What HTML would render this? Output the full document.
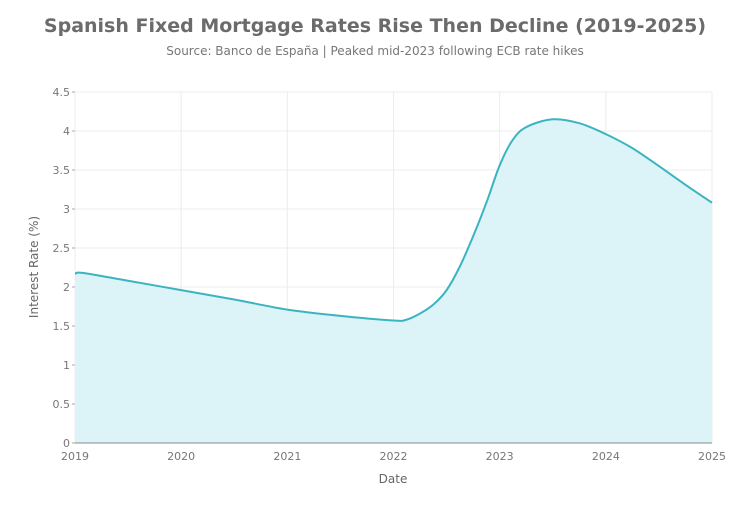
<!DOCTYPE html>
<html><head><meta charset="utf-8"><style>
body{margin:0;background:#fff;}
svg text{font-family:"DejaVu Sans","Liberation Sans",sans-serif;}
</style></head><body>
<svg id="s" width="750" height="500" xmlns="http://www.w3.org/2000/svg">
<text x="375" y="32" text-anchor="middle" font-size="19" font-weight="bold" fill="#6b6b6b">Spanish Fixed Mortgage Rates Rise Then Decline (2019-2025)</text>
<text x="375" y="55" text-anchor="middle" font-size="12" fill="#777">Source: Banco de España | Peaked mid-2023 following ECB rate hikes</text>
<g id="grid" stroke="#ececec" stroke-width="1"></g>
<path id="area" fill="#dcf3f7" stroke="none"/>
<path id="line" fill="none" stroke="#3bb4c1" stroke-width="2"/>
<line x1="75" y1="443" x2="712" y2="443" stroke="#888" stroke-width="1"/>
<g id="lbl" font-size="11" fill="#777"></g>
<text x="393" y="483" text-anchor="middle" font-size="12" fill="#666">Date</text>
<text transform="translate(38,267) rotate(-90)" text-anchor="middle" font-size="12" fill="#666">Interest Rate (%)</text>
</svg>
<script>
var X=function(t){return 75+(t-2019)*106.17},Y=function(v){return 443-v*78};
var g=document.getElementById('grid'),l=document.getElementById('lbl'),ns='http://www.w3.org/2000/svg';
function el(p,n,a,t){var e=document.createElementNS(ns,n);for(var k in a)e.setAttribute(k,a[k]);if(t)e.textContent=t;p.appendChild(e);}
for(var v=0;v<=4.5;v+=0.5){var y=Y(v);el(g,'line',{x1:75,x2:712,y1:y,y2:y});el(l,'text',{x:70,y:y+4,'text-anchor':'end'},String(v));el(l,'line',{x1:72,x2:75,y1:y,y2:y,stroke:'#aaa'});}
for(var t=2019;t<=2025;t++){var x=X(t);el(g,'line',{x1:x,x2:x,y1:92,y2:443});el(l,'text',{x:x,y:460,'text-anchor':'middle'},String(t));}
var P=[[2019,2.17],[2019.08,2.18],[2019.5,2.08],[2020,1.96],[2020.5,1.84],[2021,1.71],[2021.5,1.63],[2022,1.57],[2022.12,1.58],[2022.25,1.66],[2022.38,1.78],[2022.5,1.96],[2022.62,2.25],[2022.75,2.65],[2022.88,3.1],[2023,3.56],[2023.12,3.88],[2023.25,4.05],[2023.5,4.15],[2023.75,4.1],[2024,3.96],[2024.25,3.78],[2024.5,3.55],[2024.75,3.31],[2025,3.08]];
var pts=P.map(function(p){return [X(p[0]),Y(p[1])]});
var d='M'+pts[0][0]+','+pts[0][1];
for(var i=0;i<pts.length-1;i++){var p0=pts[i-1]||pts[i],p1=pts[i],p2=pts[i+1],p3=pts[i+2]||p2;
d+=' C'+(p1[0]+(p2[0]-p0[0])/6)+','+(p1[1]+(p2[1]-p0[1])/6)+' '+(p2[0]-(p3[0]-p1[0])/6)+','+(p2[1]-(p3[1]-p1[1])/6)+' '+p2[0]+','+p2[1];}
document.getElementById('line').setAttribute('d',d);
document.getElementById('area').setAttribute('d',d+' L712,443 L75,443 Z');
</script>
</body></html>
